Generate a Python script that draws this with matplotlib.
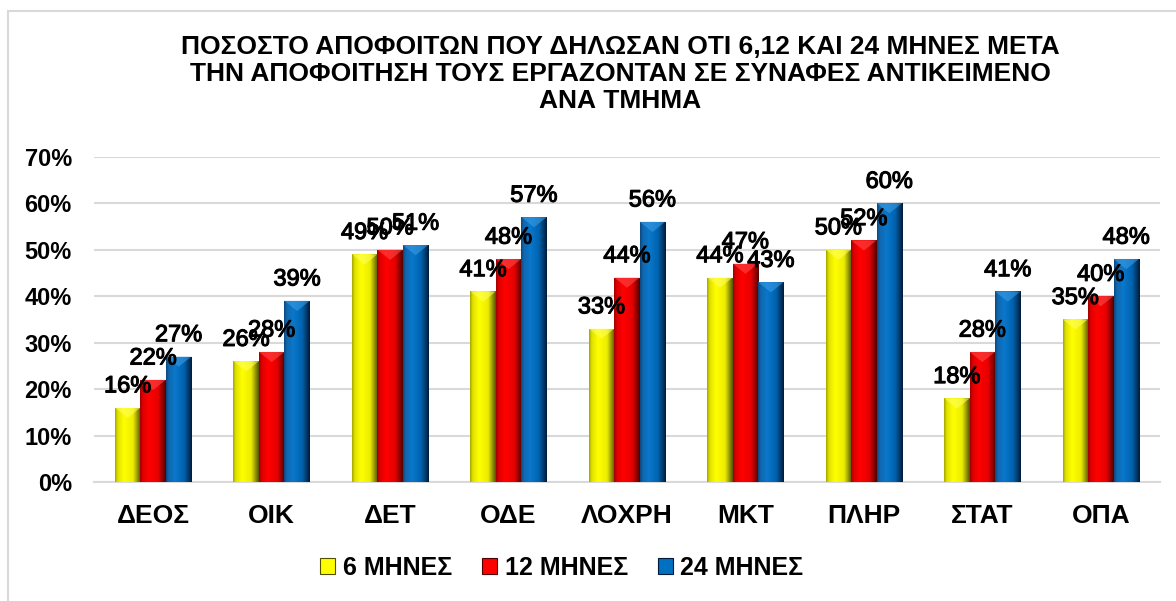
import numpy as np
import matplotlib
matplotlib.use("Agg")
import matplotlib.pyplot as plt
import matplotlib.patheffects as pe
from matplotlib.colors import LinearSegmentedColormap
from matplotlib.lines import Line2D
from matplotlib.patches import Patch

plt.rcParams['font.family'] = ['Liberation Sans', 'DejaVu Sans']

categories = ["ΔΕΟΣ", "ΟΙΚ", "ΔΕΤ", "ΟΔΕ", "ΛΟΧΡΗ", "ΜΚΤ", "ΠΛΗΡ", "ΣΤΑΤ", "ΟΠΑ"]
series_names = ["6 ΜΗΝΕΣ", "12 ΜΗΝΕΣ", "24 ΜΗΝΕΣ"]
m6 = [16, 26, 49, 41, 33, 44, 50, 18, 35]
m12 = [22, 28, 50, 48, 44, 47, 52, 28, 40]
m24 = [27, 39, 51, 57, 56, 43, 60, 41, 48]
yticks = [0, 10, 20, 30, 40, 50, 60, 70]
title = ("ΠΟΣΟΣΤΟ ΑΠΟΦΟΙΤΩΝ ΠΟΥ ΔΗΛΩΣΑΝ ΟΤΙ 6,12 ΚΑΙ 24 ΜΗΝΕΣ ΜΕΤΑ\n"
         "ΤΗΝ ΑΠΟΦΟΙΤΗΣΗ ΤΟΥΣ ΕΡΓΑΖΟΝΤΑΝ ΣΕ ΣΥΝΑΦΕΣ ΑΝΤΙΚΕΙΜΕΝΟ\n"
         "ΑΝΑ ΤΜΗΜΑ")

base_colors = ["#ffff00", "#ff0000", "#0070c0"]
grads = [
    ["#a0a000", "#e0e000", "#ffff00", "#ecec00", "#505000"],
    ["#980000", "#dc0000", "#ff0000", "#e60000", "#500000"],
    ["#0c4478", "#1066ac", "#0a78cc", "#0062ae", "#001a38"],
]
tops = ["#ffff66", "#ff5050", "#40a0e8"]

W, H = 1176, 601
fig = plt.figure(figsize=(W / 100, H / 100), dpi=100)
ax = fig.add_axes([94 / W, 1 - 482 / H, (1160 - 94) / W, (482 - 156.7) / H])

x = np.arange(len(categories))
bw = 0.215
series = [m6, m12, m24]
for i, vals in enumerate(series):
    vals = np.array(vals) / 100.0
    pos = x + (i - 1) * bw
    bars = ax.bar(pos, vals, width=bw, color=base_colors[i], zorder=2, linewidth=0)
    cmap = LinearSegmentedColormap.from_list(
        "g%d" % i, list(zip([0, 0.1, 0.35, 0.7, 1.0], grads[i])))
    for b, v in zip(bars, vals):
        x0 = b.get_x()
        im = ax.imshow(np.linspace(0, 1, 256).reshape(1, -1), cmap=cmap,
                       extent=[x0, x0 + bw, 0, v], aspect='auto', zorder=3,
                       interpolation='bicubic')
        im.set_clip_path(b)
        # top bevel chevron
        ax.fill([x0, x0 + bw, x0 + bw * 0.5], [v, v, v - 0.022],
                color=tops[i], alpha=0.55, zorder=4, linewidth=0)
        ax.annotate(f"{int(round(v * 100))}%", (x0 + bw / 2, v),
                    xytext=(0, 11), textcoords='offset points',
                    ha='center', va='baseline', fontsize=17, zorder=5,
                    path_effects=[pe.withStroke(linewidth=0.8, foreground='black')])

ax.set_xlim(-0.5, len(categories) - 0.5)
ax.set_ylim(0, 0.7)
ax.set_yticks([t / 100 for t in yticks])
ax.set_yticklabels([f"{t}%" for t in yticks], fontsize=17, fontweight='bold')
ax.set_xticks(x)
ax.set_xticklabels(categories, fontsize=19, fontweight='bold')
ax.tick_params(axis='y', length=0, pad=16)
ax.tick_params(axis='x', length=0, pad=16)
ax.grid(axis='y', color='#d9d9d9', linewidth=1.5, zorder=0)
ax.set_axisbelow(True)
for s in ['left', 'right', 'top']:
    ax.spines[s].set_visible(False)
ax.spines['bottom'].set_color('#d9d9d9')
ax.spines['bottom'].set_linewidth(1.5)

fig.text(620 / W, 1 - 74 / H, title, ha='center', va='center', fontsize=19,
         fontweight='bold', linespacing=1.15)

handles = [Patch(facecolor=base_colors[i], edgecolor=grads[i][4], linewidth=0.8)
           for i in range(3)]
fig.legend(handles, series_names, loc='center', bbox_to_anchor=(562 / W, 1 - 568 / H),
           ncol=3, frameon=False, prop={'size': 18, 'weight': 'bold'},
           handlelength=0.6, handleheight=0.6, handletextpad=0.3, columnspacing=1.2)

fig.add_artist(Line2D([8 / W, 8 / W], [0, 1 - 11 / H], transform=fig.transFigure,
                      color='#d9d9d9', linewidth=1.5))
fig.add_artist(Line2D([8 / W, 1], [1 - 11 / H, 1 - 11 / H], transform=fig.transFigure,
                      color='#d9d9d9', linewidth=1.5))

fig.savefig("out.png", dpi=100)
